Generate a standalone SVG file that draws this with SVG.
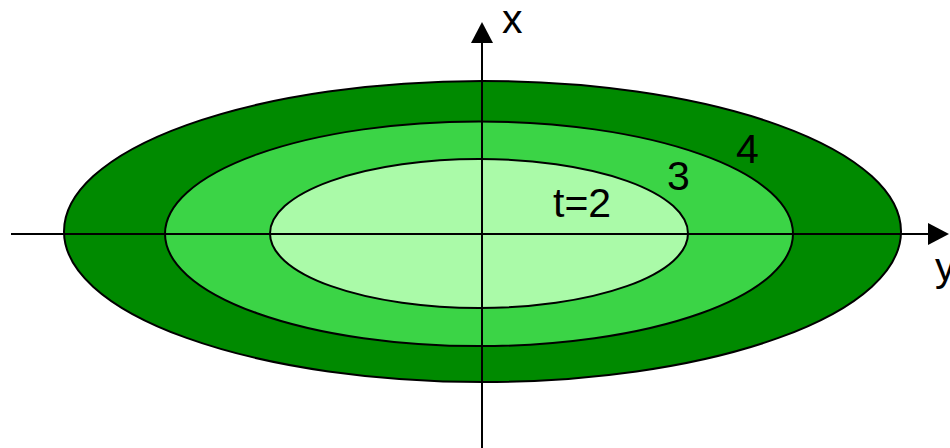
<svg xmlns="http://www.w3.org/2000/svg" width="950" height="448" viewBox="0 0 950 448">
<style>
.ring{stroke:#000;stroke-width:2}
.axis{stroke:#000;stroke-width:2;fill:none}
.lbl{font-family:"Liberation Sans",Arial,sans-serif;font-size:41px;fill:#000}
</style>
<defs>
<marker id="ah" viewBox="0 0 21 22" refX="0" refY="11" markerWidth="21" markerHeight="22" markerUnits="userSpaceOnUse" orient="auto">
<path d="M0,0 L21,11 L0,22 Z" fill="#000"/>
</marker>
</defs>
<rect width="950" height="448" fill="#fff"/>
<g id="t4"><ellipse class="ring" cx="482.5" cy="231.5" rx="418.5" ry="150.5" fill="#008a00"/></g>
<g id="t3"><ellipse class="ring" cx="479" cy="233.8" rx="314" ry="112.3" fill="#3bd446"/></g>
<g id="t2"><ellipse class="ring" cx="479" cy="233.5" rx="209" ry="74.5" fill="#aafaa8"/></g>
<g id="axes">
<line class="axis" x1="11" y1="234" x2="928" y2="234" marker-end="url(#ah)"/>
<line class="axis" x1="482" y1="448" x2="482" y2="43" marker-end="url(#ah)"/>
</g>
<g id="labels">
<text class="lbl" x="502" y="33">x</text>
<text class="lbl" x="935" y="281">y</text>
<text class="lbl" x="553" y="217">t=2</text>
<text class="lbl" x="667" y="190">3</text>
<text class="lbl" x="736" y="163">4</text>
</g>
</svg>
